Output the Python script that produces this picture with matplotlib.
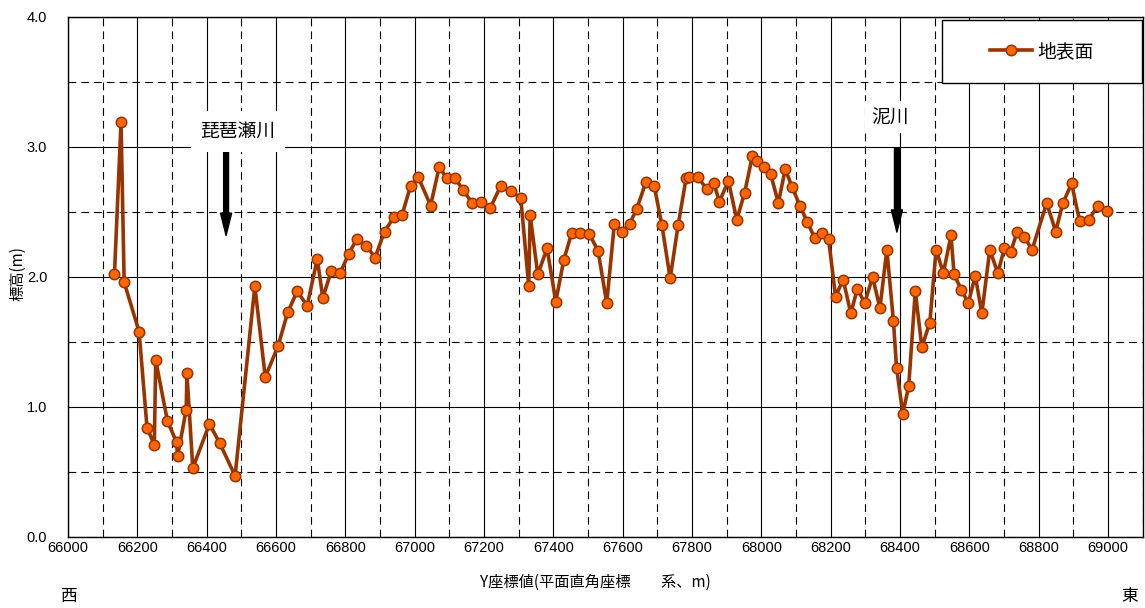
import matplotlib
matplotlib.use("Agg")
import matplotlib.pyplot as plt
from matplotlib.ticker import MultipleLocator, FormatStrFormatter
from matplotlib.patches import Rectangle

plt.rcParams['font.family'] = ['Liberation Sans', 'Noto Sans CJK JP', 'DejaVu Sans']
CJK = ['Noto Sans CJK JP', 'DejaVu Sans']

# ---- data ----
y_coord = [66134, 66153, 66162, 66205, 66228, 66249, 66253, 66287, 66313, 66316,
           66341, 66343, 66360, 66408, 66438, 66482, 66539, 66569, 66606, 66634,
           66661, 66690, 66719, 66735, 66760, 66785, 66810, 66833, 66860, 66886,
           66913, 66940, 66964, 66988, 67010, 67046, 67071, 67092, 67116, 67140,
           67165, 67191, 67218, 67248, 67277, 67306, 67329, 67333, 67355, 67382,
           67407, 67430, 67453, 67477, 67504, 67529, 67554, 67576, 67599, 67620,
           67640, 67667, 67691, 67713, 67737, 67760, 67783, 67791, 67816, 67842,
           67863, 67879, 67905, 67929, 67952, 67974, 67986, 68009, 68027, 68049,
           68069, 68089, 68111, 68133, 68154, 68175, 68194, 68214, 68236, 68258,
           68277, 68298, 68321, 68342, 68362, 68381, 68390, 68408, 68425, 68444,
           68463, 68486, 68504, 68525, 68547, 68556, 68577, 68597, 68617, 68636,
           68659, 68682, 68701, 68719, 68738, 68758, 68781, 68823, 68849, 68870,
           68895, 68918, 68944, 68971, 68997]
elevation = [2.02, 3.19, 1.96, 1.58, 0.84, 0.71, 1.36, 0.89, 0.73, 0.62,
             0.98, 1.26, 0.53, 0.87, 0.72, 0.47, 1.93, 1.23, 1.47, 1.73,
             1.89, 1.78, 2.14, 1.84, 2.05, 2.03, 2.18, 2.29, 2.24, 2.15,
             2.35, 2.46, 2.48, 2.70, 2.77, 2.55, 2.85, 2.76, 2.76, 2.67,
             2.57, 2.58, 2.53, 2.70, 2.66, 2.61, 1.93, 2.48, 2.02, 2.22,
             1.81, 2.13, 2.34, 2.34, 2.33, 2.20, 1.80, 2.41, 2.35, 2.41,
             2.52, 2.73, 2.70, 2.40, 1.99, 2.40, 2.76, 2.77, 2.77, 2.68,
             2.72, 2.58, 2.74, 2.44, 2.65, 2.93, 2.89, 2.85, 2.79, 2.57,
             2.83, 2.69, 2.55, 2.42, 2.30, 2.34, 2.29, 1.85, 1.98, 1.72,
             1.91, 1.80, 2.00, 1.76, 2.21, 1.66, 1.30, 0.95, 1.16, 1.89,
             1.46, 1.65, 2.21, 2.03, 2.32, 2.02, 1.90, 1.80, 2.01, 1.72,
             2.21, 2.03, 2.22, 2.19, 2.35, 2.31, 2.21, 2.57, 2.35, 2.57,
             2.72, 2.43, 2.44, 2.55, 2.51]
series_name = "地表面"

rivers = ["琵琶瀬川", "泥川"]
river_x = [66456, 68391]

fig = plt.figure(figsize=(11.45, 6.08), dpi=100)
ax = fig.add_axes([68/1145, 1-537/608, (1142.7-68)/1145, 520/608])

ax.set_xlim(66000, 69100)
ax.set_ylim(0, 4.0)

ax.xaxis.set_major_locator(MultipleLocator(200))
ax.xaxis.set_minor_locator(MultipleLocator(100))
ax.yaxis.set_major_locator(MultipleLocator(1.0))
ax.yaxis.set_minor_locator(MultipleLocator(0.5))
ax.yaxis.set_major_formatter(FormatStrFormatter('%.1f'))

ax.grid(which='major', color='black', lw=0.8, ls='-', zorder=0)
ax.grid(which='minor', color='black', lw=0.8, ls=(0, (7, 4.5)), zorder=0)
ax.set_axisbelow(True)

ax.tick_params(which='both', length=0)
ax.tick_params(axis='y', pad=15, labelsize=10.5)
ax.tick_params(axis='x', pad=3, labelsize=10.5)
for s in ax.spines.values():
    s.set_linewidth(1.0)
    s.set_color('black')

line, = ax.plot(y_coord, elevation, color='#993300', lw=2.6,
                marker='o', markersize=7.5, markerfacecolor='#FF6600',
                markeredgecolor='#993300', markeredgewidth=1.1,
                label=series_name, zorder=3)

# river annotations
ax.annotate('', xy=(river_x[0], 2.32), xytext=(river_x[0], 2.985),
            arrowprops=dict(facecolor='black', edgecolor='black', width=3.5,
                            headwidth=8, headlength=16, shrink=0), zorder=4)
ax.text(66490, 3.12, rivers[0], ha='center', va='center', fontsize=13.5,
        family=CJK, zorder=4,
        bbox=dict(facecolor='white', edgecolor='none', pad=7))
ax.annotate('', xy=(river_x[1], 2.345), xytext=(river_x[1], 2.99),
            arrowprops=dict(facecolor='black', edgecolor='black', width=3.5,
                            headwidth=8, headlength=16, shrink=0), zorder=4)
ax.text(68370, 3.23, rivers[1], ha='center', va='center', fontsize=13.5,
        family=CJK, zorder=4,
        bbox=dict(facecolor='white', edgecolor='none', pad=4))

# legend with custom frame
frame = Rectangle((942/1145, 1-83/608), 200/1145, 63/608, transform=fig.transFigure,
                  facecolor='white', edgecolor='black', lw=1.0, zorder=5)
fig.add_artist(frame)
leg = fig.legend(handles=[line], loc='center', bbox_to_anchor=(1042/1145, 1-51.5/608),
                 frameon=False, prop={'family': CJK, 'size': 13.5},
                 handlelength=2.2, handletextpad=0.3, borderpad=0)
leg.set_zorder(6)

ax.set_ylabel("標高(m)", family=CJK, fontsize=11)
ax.yaxis.set_label_coords((26-68)/1074.7, (537-274)/520)
ax.set_xlabel("Y座標値(平面直角座標　　系、m)", family=CJK, fontsize=11)
ax.xaxis.set_label_coords((595-68)/1074.7, (537-574)/520)

fig.text(68/1145, 1-597/608, "西", family=CJK, fontsize=12, ha='center', va='center')
fig.text(1130/1145, 1-597/608, "東", family=CJK, fontsize=12, ha='center', va='center')

fig.savefig("out.png", dpi=100)
